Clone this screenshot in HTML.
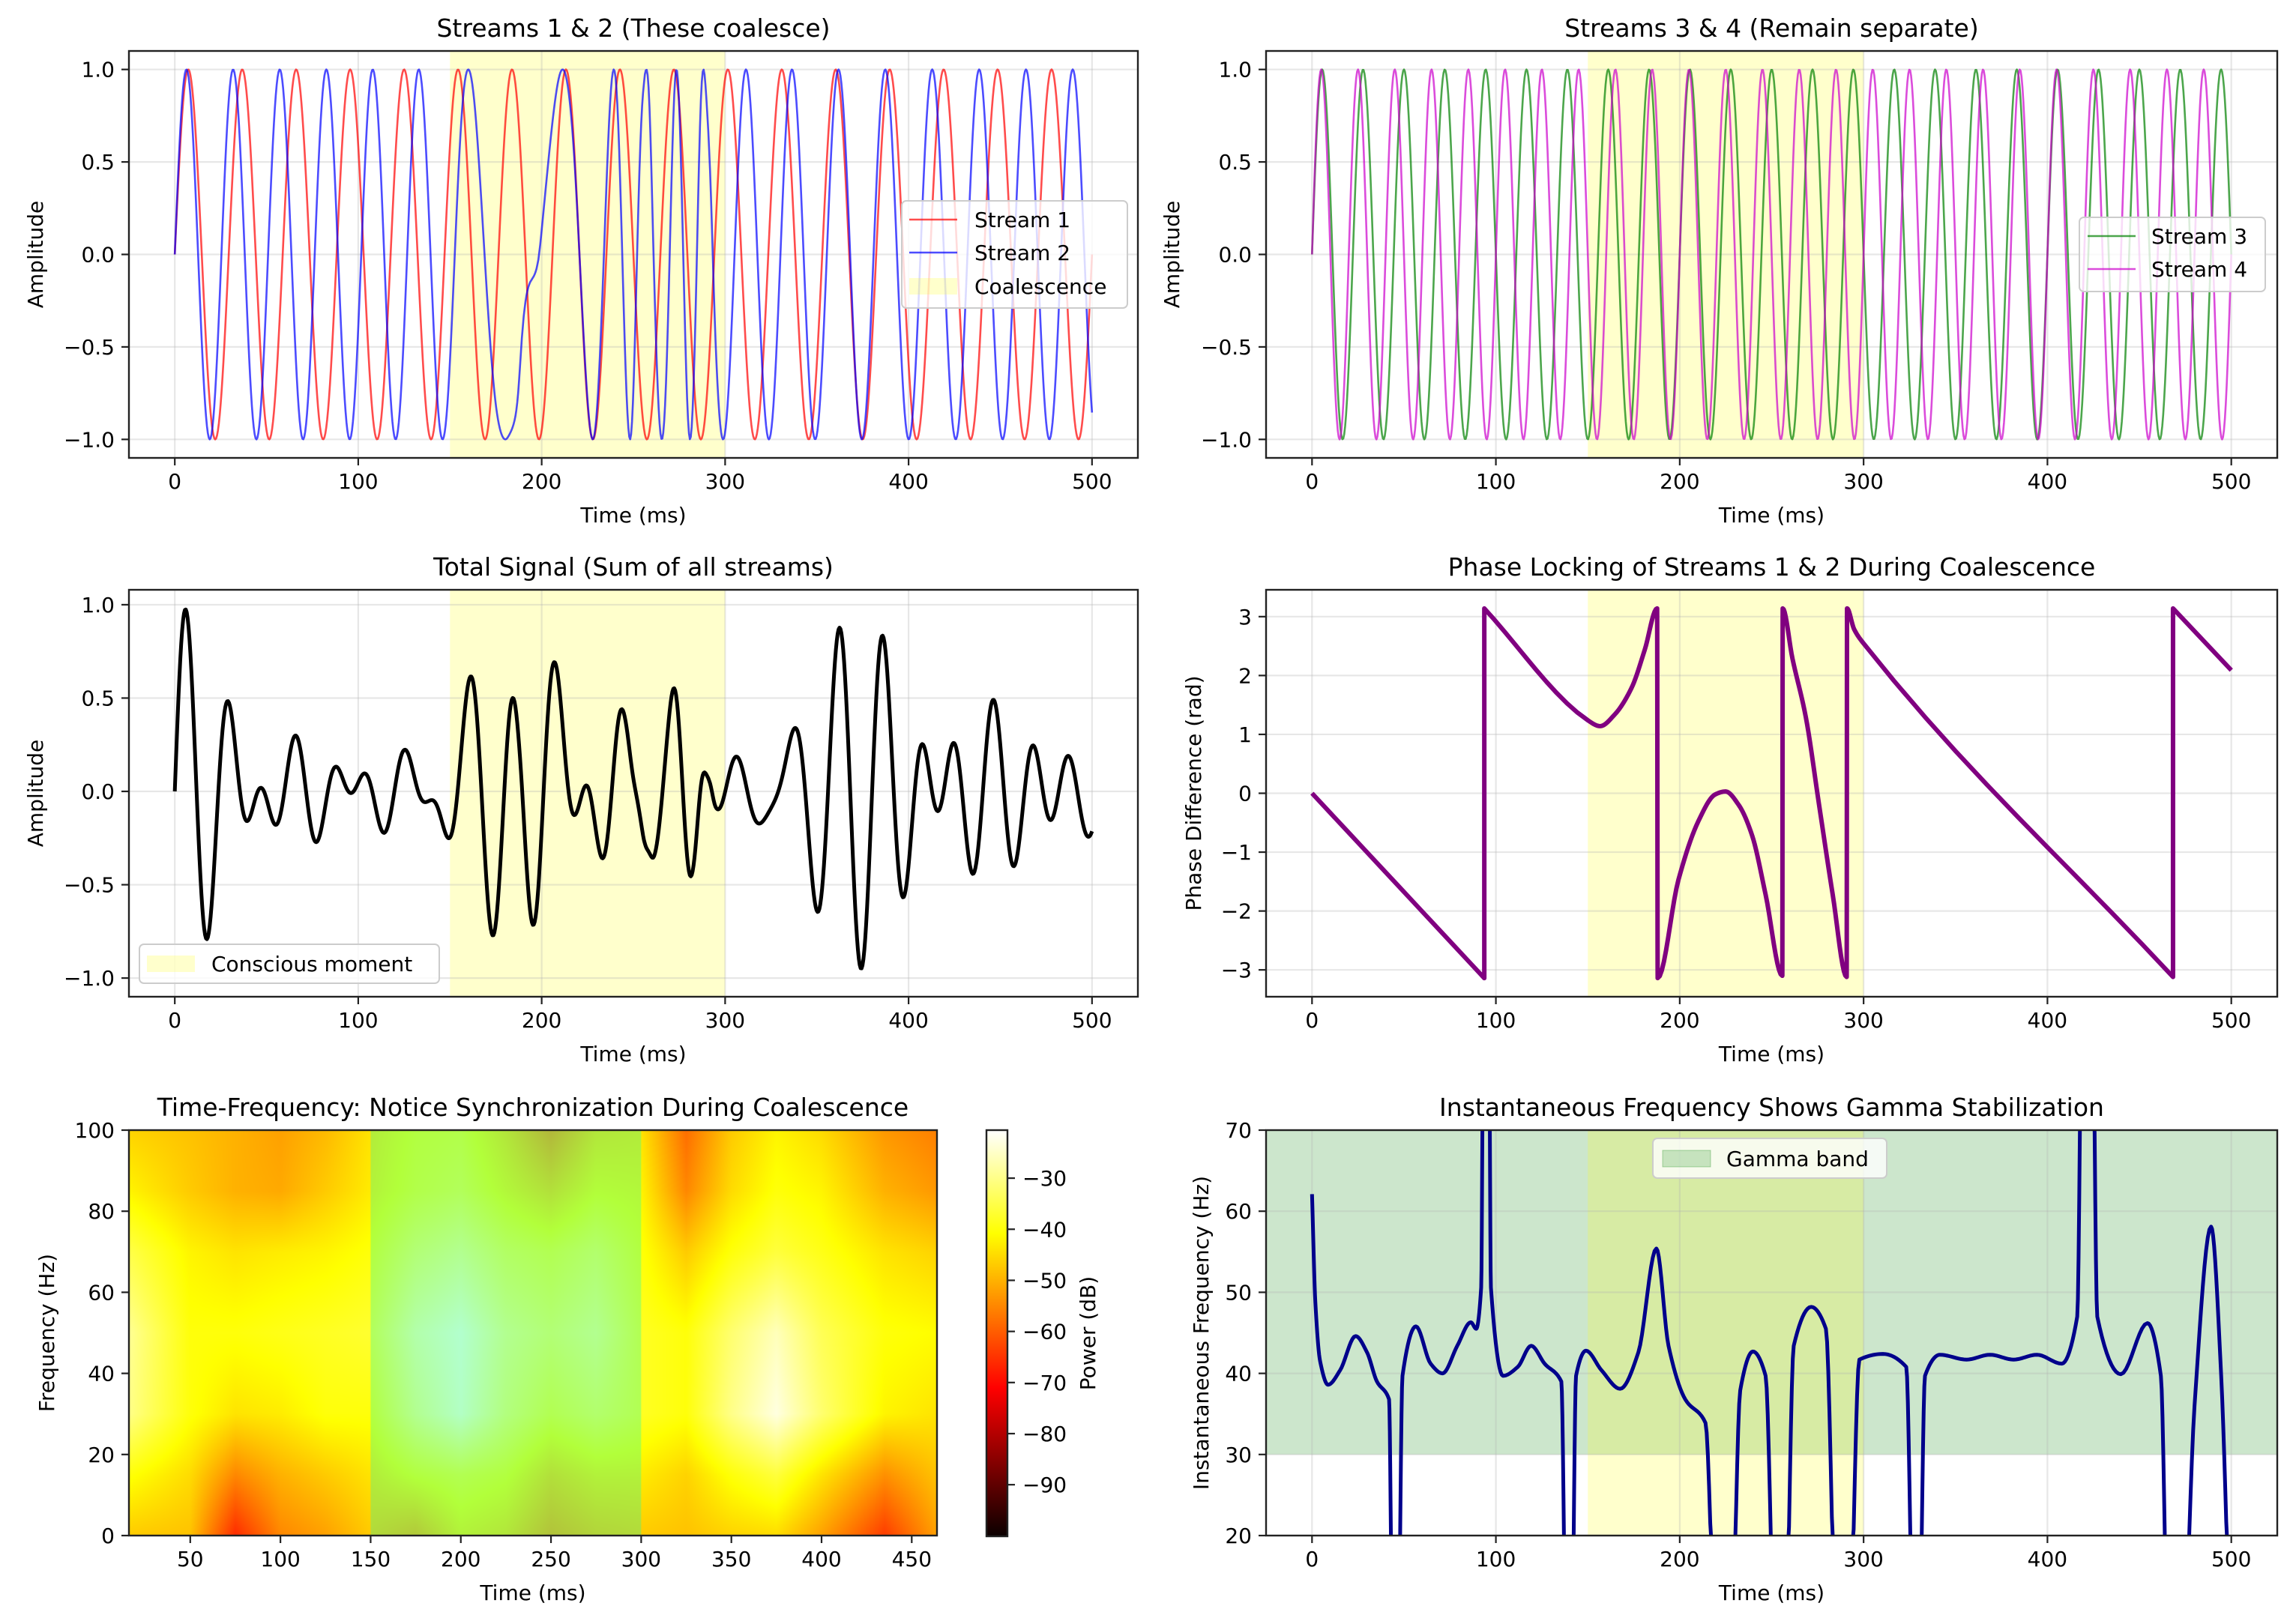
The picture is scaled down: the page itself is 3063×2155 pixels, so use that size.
<!DOCTYPE html>
<html><head><meta charset="utf-8">
<style>
html,body{margin:0;padding:0;background:#fff;width:3063px;height:2155px;overflow:hidden;}
#wrap{position:relative;width:3063px;height:2155px;overflow:hidden;background:#fff;}
#hm{position:absolute;left:172px;top:1508px;display:block;}
#fig{position:absolute;left:0;top:0;display:block;overflow:hidden;}
text{font-family:"DejaVu Sans","Liberation Sans",sans-serif;fill:#000;}
</style></head>
<body>
<div id="wrap">
<canvas id="hm" width="1078" height="541"></canvas>
<svg id="fig" width="3063" height="2155" xmlns="http://www.w3.org/2000/svg">
<defs>
<linearGradient id="hotGrad" x1="0" y1="0" x2="0" y2="1">
<stop offset="0" stop-color="#ffffff"/><stop offset="0.254" stop-color="#ffff00"/><stop offset="0.635" stop-color="#ff0000"/><stop offset="1" stop-color="#0b0000"/>
</linearGradient>
</defs>
</svg>
</div>
<script>
// ---------- data ----------
const stream1FreqHz = [34];
const stream3FreqHz = [45];
const stream4FreqHz = [50];
const sampleCount = [1000];
const coalescenceMs = [150, 300];
const gammaBandHz = [30, 70];
// phase difference (stream1 - stream2), wrapped
const phaseT = [0,93.7,93.7,150,156.7,164.7,173.8,181,187.7,188,199.3,210.2,219.3,224.9,232.1,239.4,246.7,255.8,256,261.3,268.6,275.9,283.2,290.8,291,294.8,299.6,468.3,468.3,500];
const phaseV = [0,-3.14,3.14,1.24,1.14,1.34,1.79,2.44,3.14,-3.14,-1.47,-0.47,-0.02,0.03,-0.2,-0.72,-1.72,-3.1,3.14,2.29,1.29,-0.22,-1.72,-3.12,3.14,2.79,2.56,-3.12,3.14,2.09];
// instantaneous frequency of total signal
const ifT = [0,1.8,4.4,8.7,15.3,23.7,29.9,35.3,41.9,44,46.6,49.2,56.5,64.5,71,79,86.4,89.3,92,93.7,95.8,97.3,103.9,111.9,119.2,126.5,135.6,138.5,141,143.6,149,157.4,167.6,177.5,187.3,193.9,203,214,220.5,227.4,232.9,239.8,246.7,252.5,256.9,262,271.5,279.5,286,291.5,297.7,310.5,323.2,327.6,329.8,333.4,341.5,356,368.8,381.6,394.3,407.8,416.2,419.8,423.5,427.1,439.9,454.4,461.7,466.1,472.7,480,489,494.5,500];
const ifV = [62.1,48.8,41.5,38.6,40.4,44.6,42.6,39,36.8,0,0,39.7,45.8,41.2,40,43.4,46.3,45.5,50.6,110,110,50.6,39.7,40.8,43.4,41.2,39,0,0,39.7,42.8,40.4,38.1,42.6,55.4,43.4,36.8,33.9,0,0,37.9,42.7,39.7,0,0,43.4,48.2,45.5,0,0,41.7,42.4,40.8,0,0,39.7,42.3,41.7,42.3,41.7,42.3,41.2,47,110,110,47,39.9,46.2,39.7,0,0,36,58.1,39.7,0];
// spectrogram grid (dB)
const heatT = [16,50,75,100,125,150,175,200,225,250,275,300,325,350,375,400,435,464];
const heatF = [0,15,30,50,70,85,100];
const heatDb = [
[-47,-40,-30,-29,-35,-42,-46],
[-48,-45,-40,-40,-42,-47,-48],
[-66,-55,-44,-40,-44,-50,-50],
[-55,-50,-43,-39,-43,-51,-52],
[-52,-47,-40,-38,-42,-47,-49],
[-47,-44,-40,-37,-40,-43,-44],
[-50,-40,-31,-28,-34,-39,-40],
[-43,-38,-25,-24,-31,-37,-39],
[-45,-40,-33,-31,-36,-42,-45],
[-51,-46,-38,-34,-38,-46,-53],
[-48,-43,-35,-31,-35,-41,-45],
[-47,-43,-38,-38,-40,-42,-44],
[-48,-46,-40,-40,-47,-55,-58],
[-46,-40,-30,-32,-40,-45,-47],
[-45,-36,-23,-26,-36,-40,-42],
[-52,-44,-32,-34,-39,-42,-45],
[-64,-54,-42,-40,-44,-50,-53],
[-52,-48,-44,-41,-46,-53,-56]];
const colorRangeDb = [-100.1, -20.6];
const timeTicks = [0,100,200,300,400,500];
const ampTicks = [-1,-0.5,0,0.5,1];
const phaseTicks = [-3,-2,-1,0,1,2,3];
const ifTicks = [20,30,40,50,60,70];
const heatTimeTicks = [50,100,150,200,250,300,350,400,450];
const heatFreqTicks = [0,20,40,60,80,100];
const cbTicks = [-30,-40,-50,-60,-70,-80,-90];

// ---------- helpers ----------
const NS='http://www.w3.org/2000/svg';
const svg=document.getElementById('fig');
function mk(tag,attrs,parent){const e=document.createElementNS(NS,tag);for(const k in attrs)e.setAttribute(k,attrs[k]);(parent||svg).appendChild(e);return e;}
function fmt(v,d){const s=Math.abs(v).toFixed(d);return (v<0?'\u2212':'')+s;}
function interp(xs,ys,x){
  if(x<=xs[0])return ys[0];
  for(let i=1;i<xs.length;i++){ if(x<=xs[i]){const dx=xs[i]-xs[i-1]; if(dx===0)return ys[i]; return ys[i-1]+(ys[i]-ys[i-1])*(x-xs[i-1])/dx;} }
  return ys[ys.length-1];
}
// Monotone cubic (Fritsch-Butland) densification, breaking at repeated x
function smooth(xs,ys,sub){
  const groups=[];let cur=[];
  for(let i=0;i<xs.length;i++){ if(i>0&&xs[i]===xs[i-1]){groups.push(cur);cur=[];} cur.push([xs[i],ys[i]]); }
  groups.push(cur);
  const ox=[],oy=[];
  groups.forEach(g=>{
    const n=g.length;
    if(n===1){ox.push(g[0][0]);oy.push(g[0][1]);return;}
    const d=[];for(let k=0;k<n-1;k++)d.push((g[k+1][1]-g[k][1])/(g[k+1][0]-g[k][0]));
    const m=[];
    for(let k=0;k<n;k++){
      if(k===0)m.push(d[0]);else if(k===n-1)m.push(d[n-2]);
      else if(d[k-1]*d[k]<=0)m.push(0);
      else m.push(2/(1/d[k-1]+1/d[k]));
    }
    for(let k=0;k<n-1;k++){
      const x0=g[k][0],x1=g[k+1][0],y0=g[k][1],y1=g[k+1][1],h=x1-x0;
      for(let s=0;s<sub;s++){const u=s/sub,u2=u*u,u3=u2*u;
        ox.push(x0+u*h);
        oy.push((2*u3-3*u2+1)*y0+(u3-2*u2+u)*h*m[k]+(-2*u3+3*u2)*y1+(u3-u2)*h*m[k+1]);}
    }
    ox.push(g[n-1][0]);oy.push(g[n-1][1]);
  });
  return [ox,oy];
}
let clipId=0;
function makeAxes(name,b,xlim,ylim){
  const g=mk('g',{});
  
  
  const sx=v=>b.x0+(v-xlim[0])/(xlim[1]-xlim[0])*(b.x1-b.x0);
  const sy=v=>b.y1-(v-ylim[0])/(ylim[1]-ylim[0])*(b.y1-b.y0);
  const id='clip'+(clipId++);
  const cp=mk('clipPath',{id:id},svg.querySelector('defs'));
  mk('rect',{x:b.x0,y:b.y0,width:b.x1-b.x0,height:b.y1-b.y0},cp);
  return {g,sx,sy,b,clip:'url(#'+id+')'};
}
function drawGrid(ax,xt,yt){
  const gg=mk('g',{'clip-path':ax.clip},ax.g);
  
  
  xt.forEach(v=>{const l=mk('line',{x1:ax.sx(v),x2:ax.sx(v),y1:ax.b.y0,y2:ax.b.y1,stroke:'#b0b0b0','stroke-opacity':0.3,'stroke-width':2.2},gg);
    
    });
  yt.forEach(v=>{const l=mk('line',{x1:ax.b.x0,x2:ax.b.x1,y1:ax.sy(v),y2:ax.sy(v),stroke:'#b0b0b0','stroke-opacity':0.3,'stroke-width':2.2},gg);
    
    });
}
function drawFrame(ax,xt,xl,yt,yl){
  const b=ax.b;
  const fr=mk('rect',{x:b.x0,y:b.y0,width:b.x1-b.x0,height:b.y1-b.y0,fill:'none',stroke:'#222','stroke-width':2.4},ax.g);
  
  
  xt.forEach((v,i)=>{const x=ax.sx(v);
    const t=mk('line',{x1:x,x2:x,y1:b.y1,y2:b.y1+10,stroke:'#222','stroke-width':2.2},ax.g);
    
    
    const lb=mk('text',{x:x,y:b.y1+41,'text-anchor':'middle','font-size':28},ax.g);
    lb.textContent=xl[i];
    
    });
  yt.forEach((v,i)=>{const y=ax.sy(v);
    const t=mk('line',{x1:b.x0-10,x2:b.x0,y1:y,y2:y,stroke:'#222','stroke-width':2.2},ax.g);
    
    
    const lb=mk('text',{x:b.x0-19,y:y+10,'text-anchor':'end','font-size':28},ax.g);
    lb.textContent=yl[i];
    
    });
}
function titles(ax,title,xlab,ylab,ylabX){
  const b=ax.b;
  const t=mk('text',{x:(b.x0+b.x1)/2,y:b.y0-19,'text-anchor':'middle','font-size':33},ax.g);
  t.textContent=title;
  
  
  const xl=mk('text',{x:(b.x0+b.x1)/2,y:b.y1+86,'text-anchor':'middle','font-size':28},ax.g);
  xl.textContent=xlab;
  
  
  const cy=(b.y0+b.y1)/2;
  const yl=mk('text',{x:ylabX,y:cy,'text-anchor':'middle','font-size':28,transform:'rotate(-90 '+ylabX+' '+cy+')'},ax.g);
  yl.textContent=ylab;
  
  
}
function vspan(ax,a,c,color,op,name){
  const r=mk('rect',{x:ax.sx(a),y:ax.b.y0,width:ax.sx(c)-ax.sx(a),height:ax.b.y1-ax.b.y0,fill:color,'fill-opacity':op,'clip-path':ax.clip},ax.g);
  
  
  return r;
}
function line(ax,xs,ys,color,w,op,name){
  let d='';
  const lo=ax.b.y0-10, hi=ax.b.y1+10;
  for(let i=0;i<xs.length;i++){const py=Math.max(lo,Math.min(hi,ax.sy(ys[i])));
    d+=(i?'L':'M')+ax.sx(xs[i]).toFixed(2)+' '+py.toFixed(2);}
  const p=mk('path',{d:d,fill:'none',stroke:color,'stroke-width':w,'stroke-opacity':op,'stroke-linejoin':'round','clip-path':ax.clip},ax.g);
  
  
  return p;
}
function legend(ax,box,entries){
  const lg=mk('g',{},ax.g);
  
  
  const r=mk('rect',{x:box[0],y:box[1],width:box[2]-box[0],height:box[3]-box[1],rx:6,fill:'#fff','fill-opacity':0.8,stroke:'#cccccc','stroke-width':2},lg);
  
  
  entries.forEach(e=>{
    const eg=mk('g',{},lg);
    
    
    if(e.type==='line'){
      const l=mk('line',{x1:e.hx,x2:e.hx+64,y1:e.y,y2:e.y,stroke:e.color,'stroke-width':2.6,'stroke-opacity':e.op},eg);
      
      
    } else {
      const p=mk('rect',{x:e.hx,y:e.y-11,width:64,height:22,fill:e.color,'fill-opacity':e.op,stroke:e.edge||'none','stroke-opacity':e.op*1.5},eg);
      
      
    }
    const t=mk('text',{x:e.tx,y:e.y+10,'font-size':28},eg);
    t.textContent=e.label;
    
    
  });
}

// ---------- signals ----------
const N=sampleCount[0];
const tMs=[]; for(let i=0;i<N;i++) tMs.push(500*i/(N-1));
const phaseUT=[],phaseUV=[]; let off=0;
for(let i=0;i<phaseT.length;i++){
  if(i>0&&phaseT[i]===phaseT[i-1]){ off+=phaseV[i-1]-phaseV[i]; continue; }
  phaseUT.push(phaseT[i]); phaseUV.push(phaseV[i]+off);
}
const phaseS=smooth(phaseUT,phaseUV,10);
const s1=[],s2=[],s3=[],s4=[],tot=[];
for(let i=0;i<N;i++){const ts=tMs[i]/1000;
  const p1=2*Math.PI*stream1FreqHz[0]*ts;
  const a=Math.sin(p1), b=Math.sin(p1-interp(phaseS[0],phaseS[1],tMs[i]));
  const c=Math.sin(2*Math.PI*stream3FreqHz[0]*ts), d=Math.sin(2*Math.PI*stream4FreqHz[0]*ts);
  s1.push(a);s2.push(b);s3.push(c);s4.push(d);tot.push((a+b+c+d)/4);}

const timeLabels=timeTicks.map(v=>String(v));
const ampLabels=ampTicks.map(v=>fmt(v,1));

// Panel 1
const A1=makeAxes('streams-1-2-panel',{x0:172,x1:1518,y0:68,y1:611},[-25,525],[-1.1,1.1]);
vspan(A1,coalescenceMs[0],coalescenceMs[1],'#ffff00',0.2,'coalescence-span');
drawGrid(A1,timeTicks,ampTicks);
line(A1,tMs,s1,'#ff0000',2.6,0.7,'stream-1-line');
line(A1,tMs,s2,'#0000ff',2.6,0.7,'stream-2-line');
drawFrame(A1,timeTicks,timeLabels,ampTicks,ampLabels);
titles(A1,'Streams 1 & 2 (These coalesce)','Time (ms)','Amplitude',57);
legend(A1,[1203,268,1504,411],[
 {type:'line',color:'#ff0000',op:0.7,hx:1213,tx:1300,y:293,label:'Stream 1'},
 {type:'line',color:'#0000ff',op:0.7,hx:1213,tx:1300,y:337,label:'Stream 2'},
 {type:'patch',color:'#ffff00',op:0.2,hx:1213,tx:1300,y:382,label:'Coalescence'}]);

// Panel 2
const A2=makeAxes('streams-3-4-panel',{x0:1689,x1:3038,y0:68,y1:611},[-25,525],[-1.1,1.1]);
vspan(A2,coalescenceMs[0],coalescenceMs[1],'#ffff00',0.2,'coalescence-span');
drawGrid(A2,timeTicks,ampTicks);
line(A2,tMs,s3,'#008000',2.6,0.7,'stream-3-line');
line(A2,tMs,s4,'#cc00cc',2.6,0.7,'stream-4-line');
drawFrame(A2,timeTicks,timeLabels,ampTicks,ampLabels);
titles(A2,'Streams 3 & 4 (Remain separate)','Time (ms)','Amplitude',1573);
legend(A2,[2774,290,3022,389],[
 {type:'line',color:'#008000',op:0.7,hx:2785,tx:2870,y:315,label:'Stream 3'},
 {type:'line',color:'#cc00cc',op:0.7,hx:2785,tx:2870,y:359,label:'Stream 4'}]);

// Panel 3
const A3=makeAxes('total-signal-panel',{x0:172,x1:1518,y0:787,y1:1330},[-25,525],[-1.10,1.08]);
vspan(A3,coalescenceMs[0],coalescenceMs[1],'#ffff00',0.2,'conscious-moment-span');
drawGrid(A3,timeTicks,ampTicks);
line(A3,tMs,tot,'#000000',5,1,'total-signal-line');
drawFrame(A3,timeTicks,timeLabels,ampTicks,ampLabels);
titles(A3,'Total Signal (Sum of all streams)','Time (ms)','Amplitude',57);
legend(A3,[186,1260,586,1312],[
 {type:'patch',color:'#ffff00',op:0.2,hx:196,tx:282,y:1286,label:'Conscious moment'}]);

// Panel 4
const A4=makeAxes('phase-locking-panel',{x0:1689,x1:3038,y0:787,y1:1330},[-25,525],[-3.456,3.456]);
vspan(A4,coalescenceMs[0],coalescenceMs[1],'#ffff00',0.2,'coalescence-span');
drawGrid(A4,timeTicks,phaseTicks);
const phaseSm=smooth(phaseT,phaseV,10);
line(A4,phaseSm[0],phaseSm[1],'#800080',6,1,'phase-difference-line');
drawFrame(A4,timeTicks,timeLabels,phaseTicks,phaseTicks.map(v=>fmt(v,0)));
titles(A4,'Phase Locking of Streams 1 & 2 During Coalescence','Time (ms)','Phase Difference (rad)',1602);

// Panel 5 heatmap
const A5=makeAxes('time-frequency-panel',{x0:172,x1:1250,y0:1508,y1:2049},[16,464],[0,100]);
function hot(x){x=Math.max(0,Math.min(1,x));
  const r=Math.min(1,0.0416+x/0.365079*(1-0.0416)), g=Math.max(0,Math.min(1,(x-0.365079)/0.380953)), b=Math.max(0,Math.min(1,(x-0.746032)/0.253968));
  return [r*255,g*255,b*255];}
function idx(arr,v){let i=0;while(i<arr.length-2&&v>arr[i+1])i++;return i;}
(function(){
  const cv=document.getElementById('hm'),ctx=cv.getContext('2d');
  const W=cv.width,H=cv.height,img=ctx.createImageData(W,H);
  for(let py=0;py<H;py++){const f=100-(py+0.5)/H*100;const j=idx(heatF,f);const fy=Math.max(0,Math.min(1,(f-heatF[j])/(heatF[j+1]-heatF[j])));
    for(let px=0;px<W;px++){const t=16+(px+0.5)/W*448;const i=idx(heatT,t);const fx=Math.max(0,Math.min(1,(t-heatT[i])/(heatT[i+1]-heatT[i])));
      const v=(heatDb[i][j]*(1-fy)+heatDb[i][j+1]*fy)*(1-fx)+(heatDb[i+1][j]*(1-fy)+heatDb[i+1][j+1]*fy)*fx;
      const c=hot((v-colorRangeDb[0])/(colorRangeDb[1]-colorRangeDb[0]));const k=(py*W+px)*4;
      img.data[k]=c[0];img.data[k+1]=c[1];img.data[k+2]=c[2];img.data[k+3]=255;}}
  ctx.putImageData(img,0,0);
})();
vspan(A5,coalescenceMs[0],coalescenceMs[1],'#00ffc0',0.3,'synchronization-overlay');
drawFrame(A5,heatTimeTicks,heatTimeTicks.map(String),heatFreqTicks,heatFreqTicks.map(String));
titles(A5,'Time-Frequency: Notice Synchronization During Coalescence','Time (ms)','Frequency (Hz)',72);
// colorbar
const cb=mk('g',{});


const cbx0=1316,cbx1=1344,cby0=1508,cby1=2050;
const cbr=mk('rect',{x:cbx0,y:cby0,width:cbx1-cbx0,height:cby1-cby0,fill:'url(#hotGrad)',stroke:'#222','stroke-width':2.4},cb);


const cbY=v=>cby1-(v-colorRangeDb[0])/(colorRangeDb[1]-colorRangeDb[0])*(cby1-cby0);
cbTicks.forEach(v=>{const y=cbY(v);
  const t=mk('line',{x1:cbx1,x2:cbx1+10,y1:y,y2:y,stroke:'#222','stroke-width':2.2},cb);
  
  
  const l=mk('text',{x:cbx1+20,y:y+10,'font-size':28},cb);
  l.textContent=fmt(v,0);
  
  });
const cbl=mk('text',{x:1461,y:(cby0+cby1)/2,'text-anchor':'middle','font-size':28,transform:'rotate(-90 1461 '+((cby0+cby1)/2)+')'},cb);
cbl.textContent='Power (dB)';



// Panel 6
const A6=makeAxes('instantaneous-frequency-panel',{x0:1689,x1:3038,y0:1508,y1:2049},[-25,525],[20,70]);
const hs=mk('rect',{x:A6.b.x0,y:A6.sy(gammaBandHz[1]),width:A6.b.x1-A6.b.x0,height:A6.sy(gammaBandHz[0])-A6.sy(gammaBandHz[1]),fill:'#008000','fill-opacity':0.2,'clip-path':A6.clip},A6.g);


vspan(A6,coalescenceMs[0],coalescenceMs[1],'#ffff00',0.2,'coalescence-span');
drawGrid(A6,timeTicks,ifTicks);
const ifSm=smooth(ifT,ifV,10);
line(A6,ifSm[0],ifSm[1],'#00008b',5,1,'instantaneous-frequency-line');
drawFrame(A6,timeTicks,timeLabels,ifTicks,ifTicks.map(String));
titles(A6,'Instantaneous Frequency Shows Gamma Stabilization','Time (ms)','Instantaneous Frequency (Hz)',1612);
legend(A6,[2205,1519,2517,1572],[
 {type:'patch',color:'#008000',op:0.2,edge:'#008000',hx:2218,tx:2303,y:1546,label:'Gamma band'}]);
</script>
</body></html>
